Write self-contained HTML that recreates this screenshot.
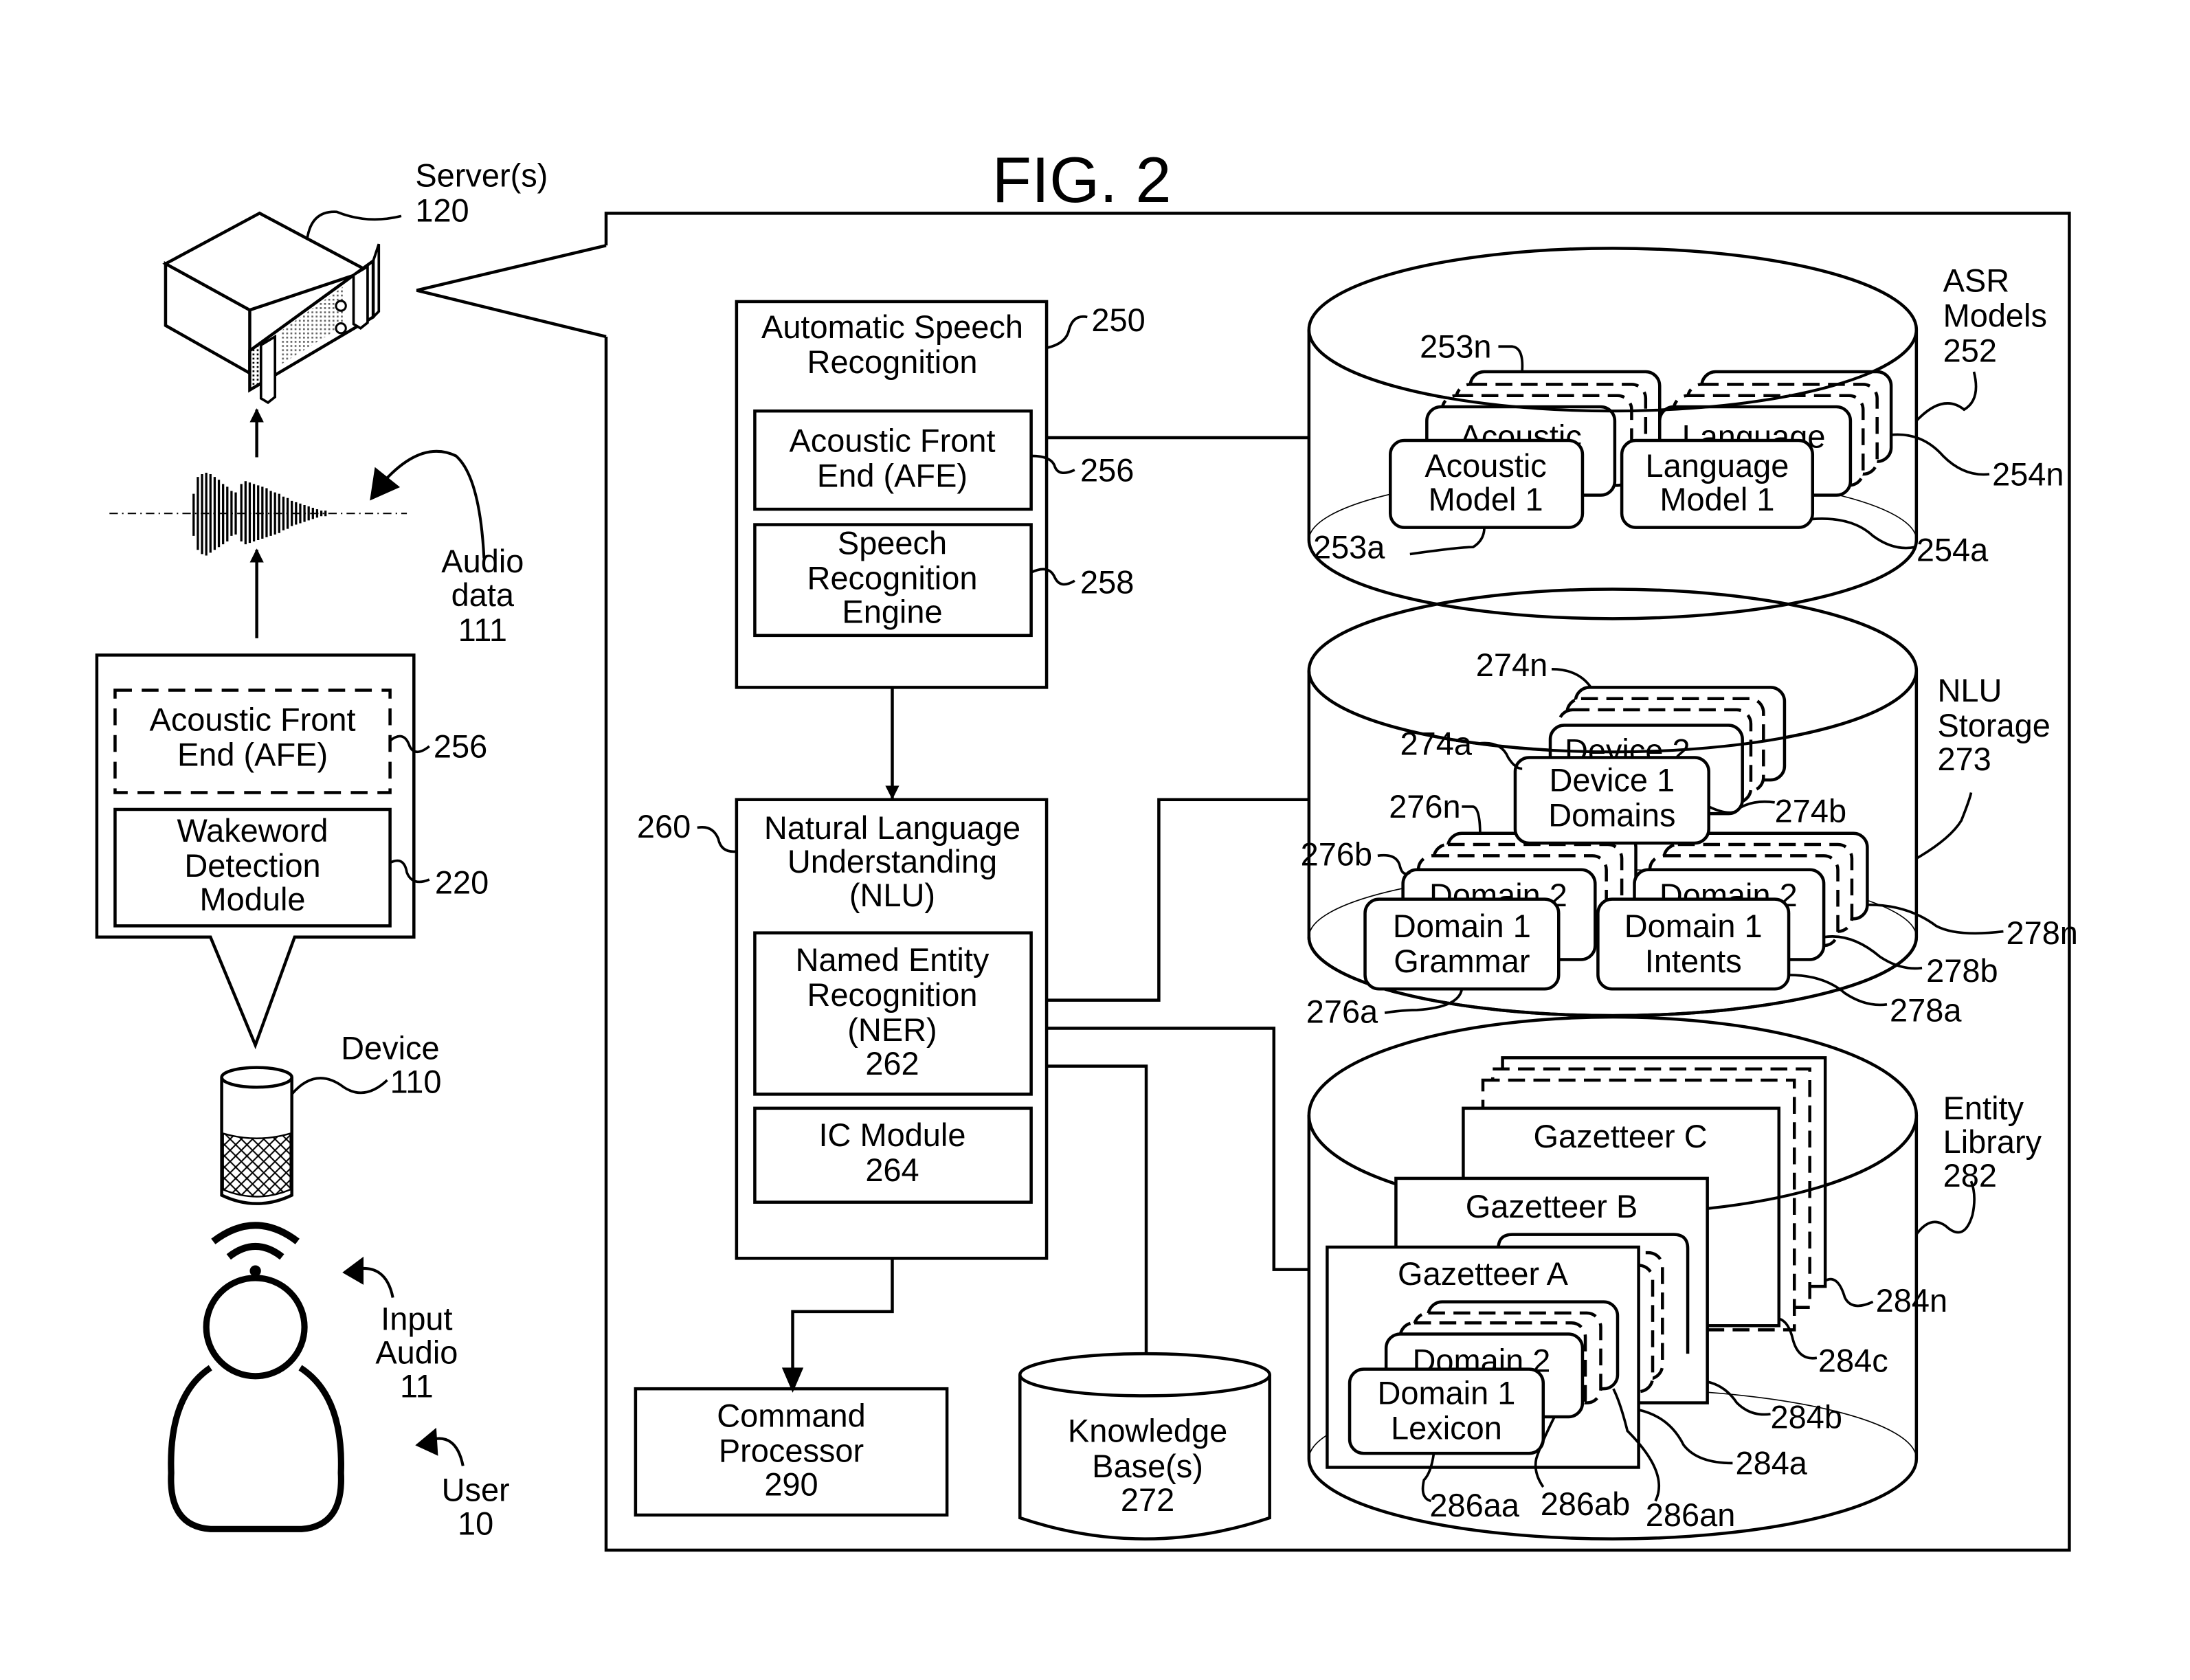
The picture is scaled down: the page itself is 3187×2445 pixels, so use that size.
<!DOCTYPE html>
<html><head><meta charset="utf-8"><style>html,body{margin:0;padding:0;background:#fff}svg{display:block}text{font-family:"Liberation Sans",sans-serif;fill:#000}</style></head><body>
<svg width="3187" height="2445" viewBox="0 0 1561 1197.6" xmlns="http://www.w3.org/2000/svg">
<defs>
<pattern id="dots" width="3" height="3" patternUnits="userSpaceOnUse"><rect width="1.3" height="1.3" fill="#000"/></pattern>
<pattern id="hatch" width="8" height="8" patternUnits="userSpaceOnUse"><path d="M0,0L8,8M8,0L0,8" stroke="#000" stroke-width="1"/></pattern>
<marker id="ar" markerWidth="10" markerHeight="10" refX="9" refY="5" orient="auto" markerUnits="userSpaceOnUse"><path d="M0,0L10,5L0,10Z" fill="#000"/></marker>
</defs>
<g fill="none" stroke="#000" stroke-width="2.2">
<text x="771" y="144" font-size="46" text-anchor="middle" stroke="none">FIG. 2</text>
<path d="M432,175V152H1475V1105H432V240" />
<path d="M432,175L297,207L432,240" />
<!-- server -->
<path d="M118,188V232L178,266V221Z" fill="#fff"/>
<path d="M118,188L185,152L262,193L178,221Z" fill="#fff"/>
<path d="M178,250L266,186V226L178,278Z" fill="#fff"/>
<path d="M178,250L190,242V271L178,278Z" fill="url(#dots)" stroke-width="1"/>
<path d="M200,236L245,204V232L200,260Z" fill="url(#dots)" stroke="none" opacity="0.6"/>
<path d="M186,246L196,240V283L191,287L186,284Z" fill="#fff" stroke-width="1.8"/>
<path d="M252,196L262,190V230L257,234L252,231Z" fill="#fff" stroke-width="1.8"/>
<path d="M266,186L270,174V222L266,226" stroke-width="1.8"/>
<circle cx="243" cy="218" r="3.5" fill="#fff" stroke-width="1.5"/>
<circle cx="243" cy="234" r="3.5" fill="#fff" stroke-width="1.5"/>
<path d="M219,170Q222,150 240,151Q262,160 286,154" stroke-width="1.8"/>
<text x="296" y="133" font-size="23" stroke="none">Server(s)</text>
<text x="296" y="158" font-size="23" stroke="none">120</text>
<line x1="183" y1="326" x2="183" y2="292" marker-end="url(#ar)"/>
<line x1="183" y1="455" x2="183" y2="392" marker-end="url(#ar)"/>
<line x1="78" y1="366" x2="290" y2="366" stroke-width="1" stroke-dasharray="6,3,1,3"/>
<g stroke-width="1.6">
<path d="M138,352V382M141,340V392M144,338V395M147,337V396M150,338V394M153,340V392M156,342V390M159,345V388M162,347V386M165,350V382M168,351V381M172,345V386M175,343V388M178,344V387M181,345V386M184,346V385M187,347V384M190,348V383M193,350V382M196,351V381M199,352V380M202,354V378M205,355V377M208,357V375M211,358V374M214,359V373M217,360V372M220,361V371M223,362V370M226,363V369M229,364V368M232,364V368"/>
</g>
<path d="M345,398Q342,340 325,325Q300,313 272,345" stroke-width="2"/>
<path d="M265,355L268,335L283,347Z" fill="#000"/>
<text x="344" y="408" font-size="23" text-anchor="middle" stroke="none">Audio</text>
<text x="344" y="432" font-size="23" text-anchor="middle" stroke="none">data</text>
<text x="344" y="457" font-size="23" text-anchor="middle" stroke="none">111</text>
<path d="M150,668H69V467H295V668H210L182,745Z" fill="#fff"/>
<rect x="82" y="492" width="196" height="73" stroke-dasharray="12,7"/>
<rect x="82" y="577" width="196" height="83"/>
<text x="180" y="521" font-size="23" text-anchor="middle" stroke="none">Acoustic Front</text>
<text x="180" y="546" font-size="23" text-anchor="middle" stroke="none">End (AFE)</text>
<text x="180" y="600" font-size="23" text-anchor="middle" stroke="none">Wakeword</text>
<text x="180" y="625" font-size="23" text-anchor="middle" stroke="none">Detection</text>
<text x="180" y="649" font-size="23" text-anchor="middle" stroke="none">Module</text>
<path d="M278,528Q288,520 292,532Q296,540 306,532" stroke-width="1.8"/>
<text x="309" y="540" font-size="23" stroke="none">256</text>
<path d="M278,615Q288,610 290,622Q294,632 306,627" stroke-width="1.8"/>
<text x="310" y="637" font-size="23" stroke="none">220</text>
<path d="M158,768V852Q183,864 208,852V768" fill="#fff"/>
<ellipse cx="183" cy="768" rx="25" ry="7" fill="#fff"/>
<path d="M159,808Q183,815 207,808V848Q183,858 159,848Z" fill="url(#hatch)" stroke-width="1.2"/>
<path d="M208,780Q225,760 245,775Q260,785 276,770" stroke-width="1.8"/>
<text x="243" y="755" font-size="23" stroke="none">Device</text>
<text x="278" y="779" font-size="23" stroke="none">110</text>
<!-- user -->
<path d="M152,885Q182,862 212,885" stroke-width="5"/>
<path d="M163,896Q182,881 201,896" stroke-width="5"/>
<circle cx="182" cy="906" r="4" fill="#000" stroke="none"/>
<path d="M150,975Q120,995 122,1050Q120,1088 150,1090H215Q245,1088 243,1050Q245,995 214,975" stroke-width="4.5" fill="#fff"/>
<circle cx="182" cy="946" r="35" stroke-width="4.5" fill="#fff"/>
<path d="M280,925Q275,900 252,905" stroke-width="2"/>
<path d="M246,907L258,898L258,914Z" fill="#000"/>
<text x="297" y="948" font-size="23" text-anchor="middle" stroke="none">Input</text>
<text x="297" y="972" font-size="23" text-anchor="middle" stroke="none">Audio</text>
<text x="297" y="996" font-size="23" text-anchor="middle" stroke="none">11</text>
<path d="M330,1045Q325,1020 305,1027" stroke-width="2"/>
<path d="M298,1030L310,1020L311,1036Z" fill="#000"/>
<text x="339" y="1070" font-size="23" text-anchor="middle" stroke="none">User</text>
<text x="339" y="1094" font-size="23" text-anchor="middle" stroke="none">10</text>

<rect x="525" y="215" width="221" height="275"/>
<text x="636" y="241" font-size="23" text-anchor="middle" stroke="none">Automatic Speech</text>
<text x="636" y="266" font-size="23" text-anchor="middle" stroke="none">Recognition</text>
<rect x="538" y="293" width="197" height="70"/>
<text x="636" y="322" font-size="23" text-anchor="middle" stroke="none">Acoustic Front</text>
<text x="636" y="347" font-size="23" text-anchor="middle" stroke="none">End (AFE)</text>
<rect x="538" y="374" width="197" height="79"/>
<text x="636" y="395" font-size="23" text-anchor="middle" stroke="none">Speech</text>
<text x="636" y="420" font-size="23" text-anchor="middle" stroke="none">Recognition</text>
<text x="636" y="444" font-size="23" text-anchor="middle" stroke="none">Engine</text>
<path d="M746,248Q760,245 762,235Q765,224 775,226" stroke-width="1.8"/>
<text x="778" y="236" font-size="23" stroke="none">250</text>
<path d="M735,325Q750,325 752,333Q755,340 766,335" stroke-width="1.8"/>
<text x="770" y="343" font-size="23" stroke="none">256</text>
<path d="M735,408Q748,402 752,412Q756,420 766,414" stroke-width="1.8"/>
<text x="770" y="423" font-size="23" stroke="none">258</text>
<line x1="636" y1="490" x2="636" y2="569" marker-end="url(#ar)"/>
<rect x="525" y="570" width="221" height="327"/>
<text x="636" y="598" font-size="23" text-anchor="middle" stroke="none">Natural Language</text>
<text x="636" y="622" font-size="23" text-anchor="middle" stroke="none">Understanding</text>
<text x="636" y="646" font-size="23" text-anchor="middle" stroke="none">(NLU)</text>
<rect x="538" y="665" width="197" height="115"/>
<text x="636" y="692" font-size="23" text-anchor="middle" stroke="none">Named Entity</text>
<text x="636" y="717" font-size="23" text-anchor="middle" stroke="none">Recognition</text>
<text x="636" y="742" font-size="23" text-anchor="middle" stroke="none">(NER)</text>
<text x="636" y="766" font-size="23" text-anchor="middle" stroke="none">262</text>
<rect x="538" y="790" width="197" height="67"/>
<text x="636" y="817" font-size="23" text-anchor="middle" stroke="none">IC Module</text>
<text x="636" y="842" font-size="23" text-anchor="middle" stroke="none">264</text>
<path d="M497,590Q508,588 512,598Q514,608 525,607" stroke-width="1.8"/>
<text x="454" y="597" font-size="23" stroke="none">260</text>
<path d="M636,897V935H565V988" />
<path d="M559,976L565,990L571,976Z" fill="#000"/>
<rect x="453" y="990" width="222" height="90"/>
<text x="564" y="1017" font-size="23" text-anchor="middle" stroke="none">Command</text>
<text x="564" y="1042" font-size="23" text-anchor="middle" stroke="none">Processor</text>
<text x="564" y="1066" font-size="23" text-anchor="middle" stroke="none">290</text>
<path d="M746,760H817V968"/>
<path d="M727,980V1082Q816,1112 905,1082V980" fill="#fff"/>
<ellipse cx="816" cy="980" rx="89" ry="15" fill="#fff"/>
<text x="818" y="1028" font-size="23" text-anchor="middle" stroke="none">Knowledge</text>
<text x="818" y="1053" font-size="23" text-anchor="middle" stroke="none">Base(s)</text>
<text x="818" y="1077" font-size="23" text-anchor="middle" stroke="none">272</text>
<path d="M746,312H933"/>
<path d="M746,713H826V570H933"/>
<path d="M746,733H908V905H946"/>

<!-- ASR cylinder -->
<path d="M933,235V385A216.5,56 0 0 0 1366,385V235"/>
<path d="M933,385A216.5,48 0 0 1 1366,385" stroke-width="0.8"/>
<ellipse cx="1149.5" cy="235" rx="216.5" ry="58"/>
<!-- NLU cylinder -->
<path d="M933,478V668A216.5,56 0 0 0 1366,668V478" fill="#fff"/>
<path d="M933,668A216.5,48 0 0 1 1366,668" stroke-width="0.8"/>
<ellipse cx="1149.5" cy="478" rx="216.5" ry="58"/>
<!-- Entity cylinder -->
<path d="M933,795V1040A216.5,57 0 0 0 1366,1040V795" fill="#fff"/>
<path d="M933,1040A216.5,50 0 0 1 1366,1040" stroke-width="0.8"/>
<ellipse cx="1149.5" cy="795" rx="216.5" ry="70"/>
<path d="M933,668A216.5,56 0 0 0 1366,668" />

<g fill="#fff">
<rect x="1048" y="265" width="135" height="64" rx="10"/>
<rect x="1038" y="274" width="135" height="64" rx="10" stroke-dasharray="12,6"/>
<rect x="1028" y="282" width="135" height="64" rx="10" stroke-dasharray="12,6"/>
<rect x="1017" y="290" width="134" height="63" rx="10"/>
<text x="1084" y="319" font-size="23" text-anchor="middle" stroke="none">Acoustic</text>
<rect x="1213" y="265" width="135" height="64" rx="10"/>
<rect x="1203" y="274" width="135" height="64" rx="10" stroke-dasharray="12,6"/>
<rect x="1193" y="282" width="135" height="64" rx="10" stroke-dasharray="12,6"/>
<rect x="1183" y="290" width="136" height="63" rx="10"/>
<text x="1250" y="319" font-size="23" text-anchor="middle" stroke="none">Language</text>
</g>
<path d="M933,235A216.5,58 0 0 0 1366,235" stroke-width="2" fill="none"/>
<rect x="991" y="314" width="137" height="62" rx="10" fill="#fff"/>
<rect x="1156" y="314" width="136" height="62" rx="10" fill="#fff"/>
<text x="1059" y="340" font-size="23" text-anchor="middle" stroke="none">Acoustic</text>
<text x="1059" y="364" font-size="23" text-anchor="middle" stroke="none">Model 1</text>
<text x="1224" y="340" font-size="23" text-anchor="middle" stroke="none">Language</text>
<text x="1224" y="364" font-size="23" text-anchor="middle" stroke="none">Model 1</text>
<g stroke-width="1.8">
<path d="M1068,247H1078Q1086,248 1085,264"/>
<path d="M1005,395Q1040,390 1050,390Q1058,385 1058,376"/>
<path d="M1348,310Q1370,308 1385,325Q1400,340 1418,338"/>
<path d="M1292,370Q1320,368 1335,382Q1350,393 1365,390"/>
<path d="M1366,300Q1385,280 1400,292Q1412,285 1407,265"/>
</g>
<text x="1012" y="255" font-size="23" stroke="none">253n</text>
<text x="936" y="398" font-size="23" stroke="none">253a</text>
<text x="1420" y="346" font-size="23" stroke="none">254n</text>
<text x="1366" y="400" font-size="23" stroke="none">254a</text>
<text x="1385" y="208" font-size="23" stroke="none">ASR</text>
<text x="1385" y="233" font-size="23" stroke="none">Models</text>
<text x="1385" y="258" font-size="23" stroke="none">252</text>

<g fill="#fff">
<rect x="1123" y="490" width="149" height="66" rx="10"/>
<rect x="1117" y="498" width="140" height="66" rx="10" stroke-dasharray="12,6"/>
<rect x="1111" y="506" width="137" height="66" rx="10" stroke-dasharray="12,6"/>
<rect x="1105" y="517" width="137" height="63" rx="10"/>
<text x="1160" y="543" font-size="23" text-anchor="middle" stroke="none">Device 2</text>
</g>
<path d="M933,478A216.5,58 0 0 0 1366,478" stroke-width="2" fill="none"/>
<g fill="#fff">
<rect x="1032" y="594" width="134" height="61" rx="10"/>
<rect x="1022" y="602" width="134" height="62" rx="10" stroke-dasharray="12,6"/>
<rect x="1011" y="610" width="134" height="64" rx="10" stroke-dasharray="12,6"/>
<rect x="1000" y="620" width="137" height="64" rx="10"/>
<text x="1068" y="646" font-size="23" text-anchor="middle" stroke="none">Domain 2</text>
<rect x="973" y="641" width="138" height="64" rx="10"/>
<rect x="1196" y="594" width="135" height="61" rx="10"/>
<rect x="1186" y="602" width="134" height="62" rx="10" stroke-dasharray="12,6"/>
<rect x="1176" y="610" width="134" height="64" rx="10" stroke-dasharray="12,6"/>
<rect x="1165" y="620" width="135" height="64" rx="10"/>
<text x="1232" y="646" font-size="23" text-anchor="middle" stroke="none">Domain 2</text>
<rect x="1139" y="641" width="136" height="64" rx="10"/>
<rect x="1080" y="540" width="138" height="61" rx="10"/>
</g>
<text x="1149" y="564" font-size="23" text-anchor="middle" stroke="none">Device 1</text>
<text x="1149" y="589" font-size="23" text-anchor="middle" stroke="none">Domains</text>
<text x="1042" y="668" font-size="23" text-anchor="middle" stroke="none">Domain 1</text>
<text x="1042" y="693" font-size="23" text-anchor="middle" stroke="none">Grammar</text>
<text x="1207" y="668" font-size="23" text-anchor="middle" stroke="none">Domain 1</text>
<text x="1207" y="693" font-size="23" text-anchor="middle" stroke="none">Intents</text>
<g stroke-width="1.8">
<path d="M1106,477Q1125,477 1134,490"/>
<path d="M1054,530Q1070,528 1075,540Q1080,548 1085,548"/>
<path d="M1218,575Q1235,583 1240,576Q1250,570 1265,572"/>
<path d="M1042,575H1050Q1055,576 1055,595"/>
<path d="M982,610Q996,608 998,618Q1000,625 1005,622"/>
<path d="M987,722Q1000,720 1010,720Q1040,718 1042,705"/>
<path d="M1332,645Q1360,645 1380,660Q1395,668 1428,664"/>
<path d="M1300,668Q1320,665 1340,682Q1355,692 1370,690"/>
<path d="M1275,695Q1300,695 1315,708Q1330,718 1345,716"/>
<path d="M1366,612Q1390,598 1398,585Q1404,570 1405,565"/>
</g>
<text x="1052" y="482" font-size="23" stroke="none">274n</text>
<text x="998" y="538" font-size="23" stroke="none">274a</text>
<text x="1265" y="586" font-size="23" stroke="none">274b</text>
<text x="990" y="583" font-size="23" stroke="none">276n</text>
<text x="927" y="617" font-size="23" stroke="none">276b</text>
<text x="931" y="729" font-size="23" stroke="none">276a</text>
<text x="1430" y="673" font-size="23" stroke="none">278n</text>
<text x="1373" y="700" font-size="23" stroke="none">278b</text>
<text x="1347" y="728" font-size="23" stroke="none">278a</text>
<text x="1381" y="500" font-size="23" stroke="none">NLU</text>
<text x="1381" y="525" font-size="23" stroke="none">Storage</text>
<text x="1381" y="549" font-size="23" stroke="none">273</text>

<g fill="#fff">
<rect x="1071" y="754" width="230" height="163"/>
<rect x="1064" y="762" width="226" height="170" stroke-dasharray="12,6"/>
<rect x="1057" y="770" width="222" height="178" stroke-dasharray="12,6"/>
<rect x="1043" y="790" width="225" height="155"/>
</g>
<path d="M933,795A216.5,70 0 0 0 1366,795" stroke-width="2" fill="none"/>
<text x="1155" y="818" font-size="23" text-anchor="middle" stroke="none">Gazetteer C</text>
<g fill="#fff">
<rect x="1068" y="880" width="135" height="90" rx="10"/>
<rect x="1060" y="888" width="133" height="90" rx="10" stroke-dasharray="12,6"/>
<rect x="995" y="840" width="222" height="160"/>
</g>
<text x="1106" y="868" font-size="23" text-anchor="middle" stroke="none">Gazetteer B</text>
<g fill="#fff">
<path d="M1068,975V890Q1068,880 1078,880H1193Q1203,880 1203,890V965" />
<rect x="1055" y="893" width="130" height="90" rx="10" stroke-dasharray="12,6"/>
<rect x="1048" y="902" width="130" height="90" rx="10" stroke-dasharray="12,6"/>
<rect x="946" y="889" width="222" height="157"/>
</g>
<text x="1057" y="916" font-size="23" text-anchor="middle" stroke="none">Gazetteer A</text>
<g fill="#fff">
<rect x="1018" y="928" width="135" height="62" rx="10"/>
<rect x="1008" y="936" width="133" height="64" rx="10" stroke-dasharray="12,6"/>
<rect x="998" y="943" width="132" height="64" rx="10" stroke-dasharray="12,6"/>
<rect x="988" y="951" width="140" height="59" rx="10"/>
<text x="1056" y="978" font-size="23" text-anchor="middle" stroke="none">Domain 2</text>
<rect x="962" y="976" width="138" height="60" rx="10"/>
</g>
<text x="1031" y="1001" font-size="23" text-anchor="middle" stroke="none">Domain 1</text>
<text x="1031" y="1026" font-size="23" text-anchor="middle" stroke="none">Lexicon</text>
<g stroke-width="1.8">
<path d="M1301,913Q1310,908 1315,925Q1320,935 1335,928"/>
<path d="M1268,940Q1275,942 1278,955Q1282,970 1295,968"/>
<path d="M1217,985Q1230,988 1238,1000Q1248,1010 1262,1008"/>
<path d="M1168,1005Q1190,1010 1200,1030Q1210,1043 1235,1043"/>
<path d="M1022,1036Q1020,1050 1015,1055Q1012,1068 1020,1070"/>
<path d="M1108,1010Q1098,1030 1095,1040Q1093,1050 1100,1060"/>
<path d="M1150,990Q1155,1000 1160,1020Q1190,1050 1180,1070"/>
<path d="M1366,880Q1376,866 1387,874Q1400,886 1406,866Q1409,852 1405,842"/>
</g>
<text x="1337" y="935" font-size="23" stroke="none">284n</text>
<text x="1296" y="978" font-size="23" stroke="none">284c</text>
<text x="1262" y="1018" font-size="23" stroke="none">284b</text>
<text x="1237" y="1051" font-size="23" stroke="none">284a</text>
<text x="1019" y="1081" font-size="23" stroke="none">286aa</text>
<text x="1098" y="1080" font-size="23" stroke="none">286ab</text>
<text x="1173" y="1088" font-size="23" stroke="none">286an</text>
<text x="1385" y="798" font-size="23" stroke="none">Entity</text>
<text x="1385" y="822" font-size="23" stroke="none">Library</text>
<text x="1385" y="846" font-size="23" stroke="none">282</text>
</g>
</svg>
</body></html>
